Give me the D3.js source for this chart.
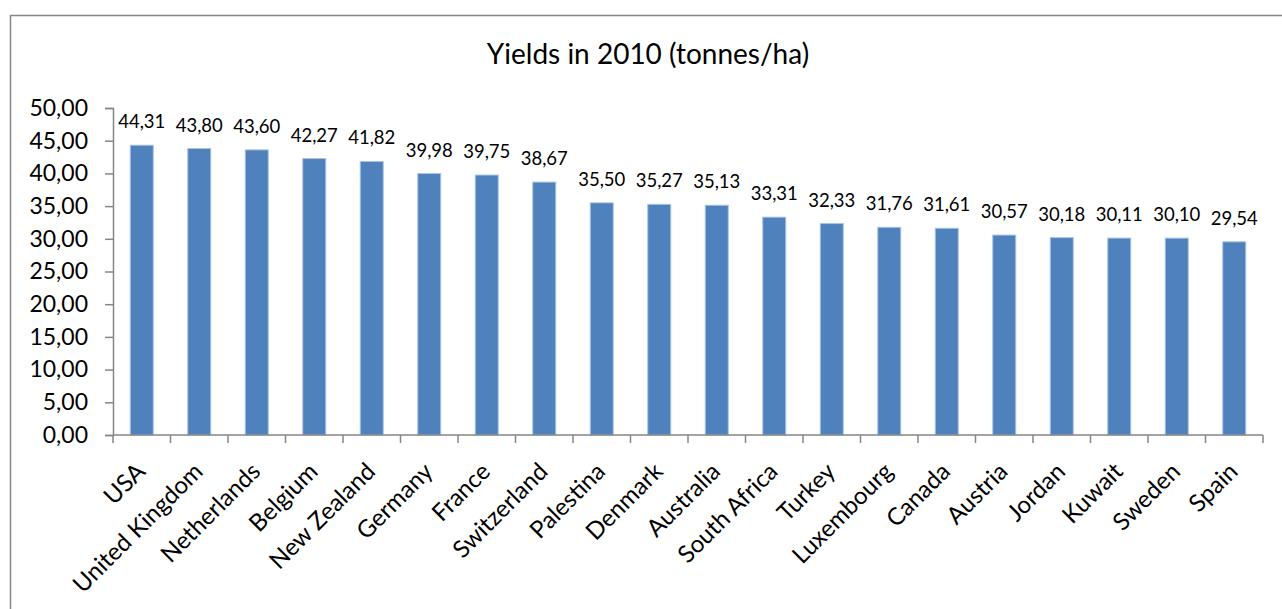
<!DOCTYPE html>
<html><head><meta charset="utf-8">
<script src="https://cdn.jsdelivr.net/npm/d3@7"></script>
<style>body{margin:0;background:#fff;} svg{display:block;font-family:Lato,"Open Sans",sans-serif;}</style>
</head><body>
<script>
const categories = ["USA","United Kingdom","Netherlands","Belgium","New Zealand","Germany","France","Switzerland","Palestina","Denmark","Australia","South Africa","Turkey","Luxembourg","Canada","Austria","Jordan","Kuwait","Sweden","Spain"];
const values = [44.31,43.80,43.60,42.27,41.82,39.98,39.75,38.67,35.50,35.27,35.13,33.31,32.33,31.76,31.61,30.57,30.18,30.11,30.10,29.54];
const yTicks = [0,5,10,15,20,25,30,35,40,45,50];
const title = "Yields in 2010 (tonnes/ha)";

const W = 1282, H = 609;
const svg = d3.select("body").append("svg").attr("width", W).attr("height", H);
const loc = d3.formatLocale({decimal: ",", thousands: ".", grouping: [3], currency: ["", ""]});
const fmt = loc.format(".2f");

// frame
svg.append("path").attr("d", `M10.5,${H+5} V15.5 H${W+5}`).attr("fill","none").attr("stroke","#868686").attr("stroke-width",1.5);

svg.append("text").attr("x", 648).attr("y", 64).attr("text-anchor","middle")
  .attr("font-size", 28).attr("fill","#000").text(title);

const x = d3.scaleBand().domain(categories).range([113, 1263]).paddingInner(0.6).paddingOuter(0.3);
const y = d3.scaleLinear().domain([0, 50]).range([435, 108]);

const gy = svg.append("g").attr("transform","translate(113,0)")
  .call(d3.axisLeft(y).tickValues(yTicks).tickFormat(fmt).tickSize(8).tickPadding(17));
gy.selectAll("text").attr("font-size", 23).attr("fill","#000").attr("font-family","Lato");
gy.selectAll("line,path").attr("stroke","#868686").attr("stroke-width",1.5);

// bars
svg.append("g").selectAll("rect").data(values).join("rect")
  .attr("x", (d,i)=>x(categories[i])).attr("width", x.bandwidth())
  .attr("y", d=>y(d)).attr("height", d=>y(0)-y(d))
  .attr("fill","#4F81BD").attr("stroke","#A9C3E2").attr("stroke-width",1);

// value labels
svg.append("g").selectAll("text").data(values).join("text")
  .attr("x", (d,i)=>x(categories[i]) + x.bandwidth()/2)
  .attr("y", d=>y(d) - 17).attr("text-anchor","middle")
  .attr("font-size", 18.5).attr("fill","#000").text(d=>fmt(d));

// x axis
const xb = d3.scaleLinear().domain([0, categories.length]).range([113, 1263]);
const gx = svg.append("g").attr("transform","translate(0,435)");
gx.append("line").attr("x1",113).attr("x2",1263).attr("stroke","#868686").attr("stroke-width",1.5);
gx.selectAll("line.t").data(d3.range(categories.length+1)).join("line").attr("class","t")
  .attr("x1", d=>xb(d)).attr("x2", d=>xb(d)).attr("y1",0).attr("y2",8)
  .attr("stroke","#868686").attr("stroke-width",1.5);
gx.selectAll("text").data(categories).join("text")
  .attr("transform", d=>`translate(${x(d)+x.bandwidth()/2+5},38) rotate(-45)`)
  .attr("text-anchor","end")
  .attr("font-size", 24).attr("fill","#000").text(d=>d);
</script>
</body></html>
